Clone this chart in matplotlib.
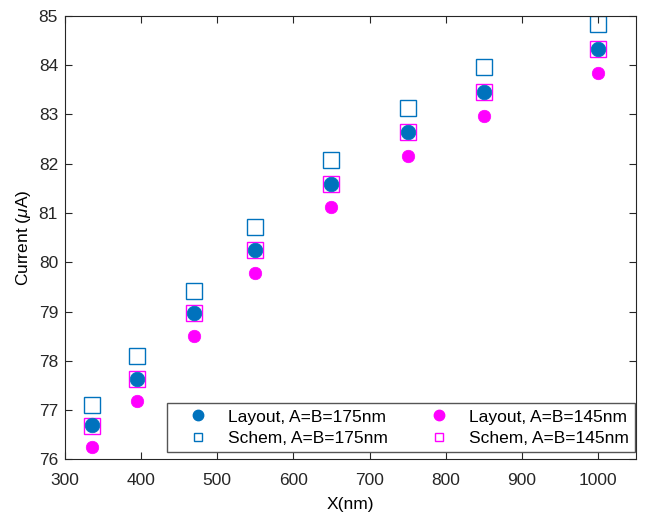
import matplotlib
matplotlib.use("Agg")
import matplotlib.pyplot as plt
from matplotlib.lines import Line2D

plt.rcParams['font.family'] = ['Liberation Sans', 'DejaVu Sans']
plt.rcParams['mathtext.fontset'] = 'custom'
plt.rcParams['mathtext.it'] = 'Liberation Sans:italic'
plt.rcParams['mathtext.rm'] = 'Liberation Sans'

x = [335, 395, 470, 550, 650, 750, 850, 1000]
layout_175 = [76.70, 77.64, 78.96, 80.25, 81.59, 82.65, 83.45, 84.32]
schem_175 = [77.10, 78.09, 79.41, 80.72, 82.07, 83.13, 83.95, 84.83]
layout_145 = [76.26, 77.18, 78.50, 79.78, 81.11, 82.16, 82.96, 83.84]
schem_145 = [76.68, 77.64, 78.96, 80.25, 81.59, 82.64, 83.45, 84.32]

labels = ["Layout, A=B=175nm", "Schem, A=B=175nm",
          "Layout, A=B=145nm", "Schem, A=B=145nm"]
xticks = [300, 400, 500, 600, 700, 800, 900, 1000]
yticks = [76, 77, 78, 79, 80, 81, 82, 83, 84, 85]

blue = '#0072BD'
mag = '#FF00FF'
FS = 12.5

fig = plt.figure(figsize=(6.47, 5.12), dpi=100)
ax = fig.add_axes([0.1005, 0.1027, 0.8825, 0.8666])

ax.plot(x, schem_145, 's', ms=11.5, mfc='none', mec=mag, mew=1.0, zorder=2)
ax.plot(x, schem_175, 's', ms=11.5, mfc='none', mec=blue, mew=1.0, zorder=2)
ax.plot(x, layout_175, 'o', ms=10.5, mfc=blue, mec=blue, mew=0.5, zorder=3)
ax.plot(x, layout_145, 'o', ms=9, mfc=mag, mec=mag, mew=0.5, zorder=3)

ax.set_xlim(300, 1050)
ax.set_ylim(76, 85)
ax.set_xticks(xticks)
ax.set_yticks(yticks)
ax.tick_params(direction='in', top=True, right=True, length=5, width=0.8,
               labelsize=FS, colors='#262626')
ax.tick_params(axis='x', pad=10)
ax.tick_params(axis='y', pad=5)
for s in ax.spines.values():
    s.set_linewidth(0.8)
    s.set_color('#262626')
ax.set_xlabel("X(nm)", fontsize=FS, labelpad=6)
ax.set_ylabel("Current ($\\mu$A)", fontsize=FS, labelpad=4)

handles = [
    Line2D([], [], ls='none', marker='o', ms=7.5, mfc=blue, mec=blue),
    Line2D([], [], ls='none', marker='s', ms=5.5, mfc='none', mec=blue, mew=1.0),
    Line2D([], [], ls='none', marker='o', ms=7.5, mfc=mag, mec=mag),
    Line2D([], [], ls='none', marker='s', ms=5.5, mfc='none', mec=mag, mew=1.0),
]
leg = ax.legend(handles, labels, ncol=2, loc='lower right',
                bbox_to_anchor=(0.998, 0.017), borderaxespad=0, fontsize=FS,
                frameon=True, fancybox=False, edgecolor='#555555', framealpha=1,
                handlelength=2.87, handletextpad=0.3, columnspacing=1.5,
                labelspacing=0.35, borderpad=0.35)
leg.get_frame().set_linewidth(1.0)

fig.savefig("out.png", dpi=100)
